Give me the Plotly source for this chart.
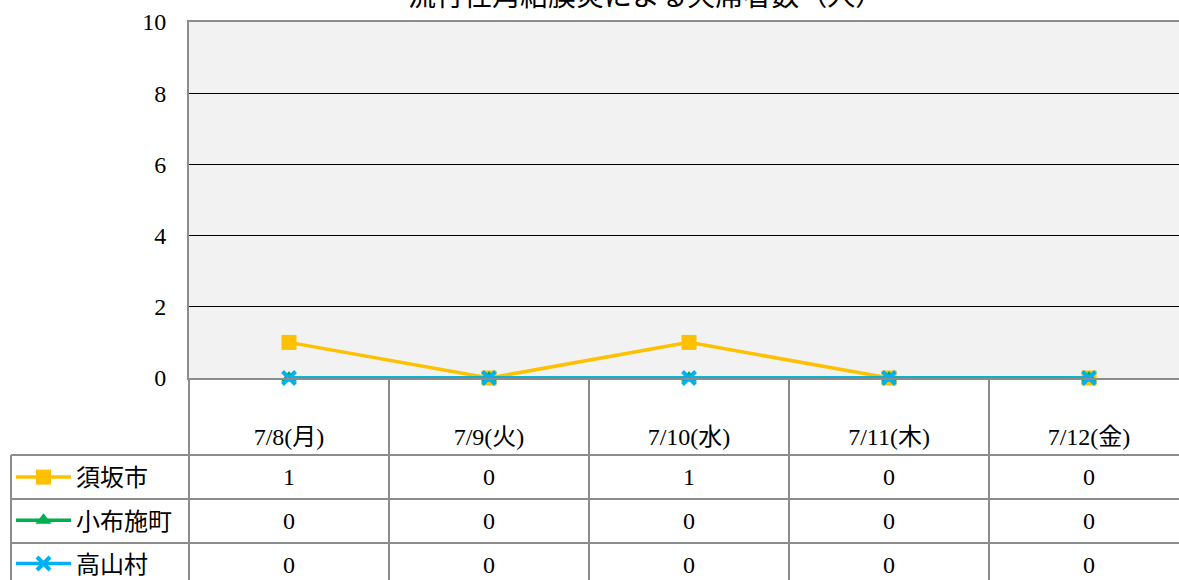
import plotly.graph_objects as go

title_text = "流行性角結膜炎による欠席者数（人）"
categories = ["7/8(月)", "7/9(火)", "7/10(水)", "7/11(木)", "7/12(金)"]
series_names = ["須坂市", "小布施町", "高山村"]
suzaka = [1, 0, 1, 0, 0]
obuse = [0, 0, 0, 0, 0]
takayama = [0, 0, 0, 0, 0]
y_ticks = [0, 2, 4, 6, 8, 10]

series_values = [suzaka, obuse, takayama]
colors = ["#FFC000", "#00B050", "#00B0F0"]
symbols = ["square", "triangle-up", "x-thin"]
msizes = [15, 14, 13]

W, H = 1179, 580
L, R, T, B = 189, 0, 22, 580 - 378
PW = W - L - R
PH = H - T - B
FONT = "Liberation Serif, Noto Sans CJK JP, serif"
GRAY = "#8c8c8c"
FS = 24


def px(xp):
    return (xp - L) / PW


def py(yp):
    return (H - B - yp) / PH


fig = go.Figure()
for name, vals, c, s, ms in zip(series_names, series_values, colors, symbols, msizes):
    mk = dict(symbol=s, size=ms, color=c)
    if s == "x-thin":
        mk["line"] = dict(color=c, width=4)
    fig.add_trace(go.Scatter(
        x=list(range(len(categories))), y=vals, name=name, mode="lines+markers",
        line=dict(color=c, width=3.5), marker=mk, cliponaxis=False,
        legendgroup=name,
    ))

shapes = []
row_lines = [455, 499, 543]
for yl in row_lines:
    shapes.append(dict(type="line", xref="paper", yref="paper", x0=px(11), x1=px(1185),
                       y0=py(yl), y1=py(yl), line=dict(color=GRAY, width=2)))
for i in range(len(categories)):
    xl = L + i * 200
    shapes.append(dict(type="line", xref="paper", yref="paper", x0=px(xl), x1=px(xl),
                       y0=py(378), y1=py(590), line=dict(color=GRAY, width=2)))
shapes.append(dict(type="line", xref="paper", yref="paper", x0=px(11), x1=px(11),
                   y0=py(455), y1=py(590), line=dict(color=GRAY, width=2)))

annotations = []
row_centers = [477, 521, 565]
for vals, yc in zip(series_values, row_centers):
    for i, v in enumerate(vals):
        annotations.append(dict(x=i, xref="x", y=py(yc), yref="paper", text=str(v),
                                showarrow=False, font=dict(size=FS, color="#000", family=FONT),
                                xanchor="center", yanchor="middle"))
annotations.append(dict(x=px(645), xref="paper", y=py(14), yref="paper", text=title_text,
                        showarrow=False, font=dict(size=28, color="#000", family=FONT),
                        xanchor="center", yanchor="bottom"))

fig.update_layout(
    width=W, height=H,
    margin=dict(l=L, r=R, t=T, b=B, pad=0, autoexpand=False),
    paper_bgcolor="white", plot_bgcolor="#F2F2F2",
    font=dict(family=FONT, size=FS, color="#000"),
    showlegend=True,
    legend=dict(x=px(11), y=py(455), xanchor="left", yanchor="top",
                bgcolor="rgba(0,0,0,0)", font=dict(size=FS, family=FONT),
                itemwidth=55, tracegroupgap=9, traceorder="grouped"),
    shapes=shapes, annotations=annotations,
    xaxis=dict(range=[-0.5, -0.5 + PW / 200], tickmode="array",
               tickvals=list(range(len(categories))), ticktext=categories,
               showgrid=False, zeroline=False, showline=True, linecolor=GRAY, linewidth=2,
               mirror=True, ticks="", ticklabelstandoff=36, automargin=False,
               tickfont=dict(size=FS, family=FONT, color="#000")),
    yaxis=dict(range=[0, 10], tickmode="array", tickvals=y_ticks,
               showgrid=True, gridcolor="#000", gridwidth=1, zeroline=False,
               showline=True, linecolor=GRAY, linewidth=2, ticks="", automargin=False,
               ticklabelstandoff=16, tickfont=dict(size=FS, family=FONT, color="#000")),
)

fig.write_html("out.html", config={"displayModeBar": False},
               post_script="document.body.style.margin='0';")
